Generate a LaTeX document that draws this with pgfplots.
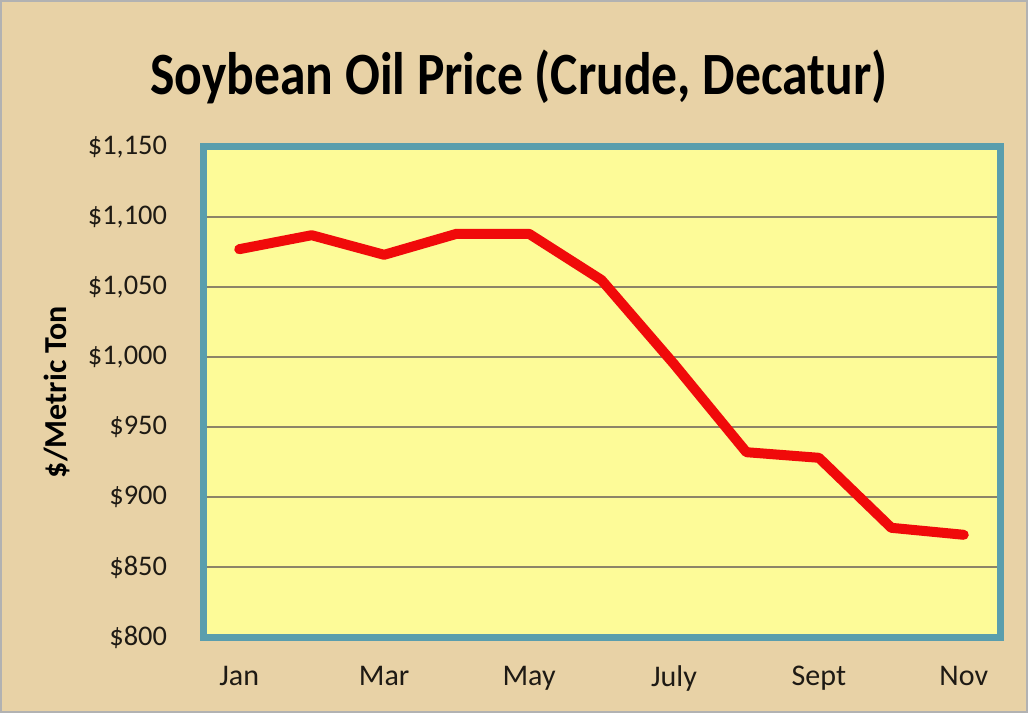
\documentclass[border=0pt]{standalone}
\usepackage{pgfplots}
\pgfplotsset{compat=1.18}
\usepackage{fontspec}
\setmainfont{Carlito}
\definecolor{bgtan}{HTML}{E8D2A6}
\definecolor{plotyellow}{HTML}{FDFB98}
\definecolor{frameteal}{HTML}{5A9EAD}
\definecolor{gridc}{HTML}{8C8468}
\definecolor{linered}{HTML}{F00A0A}
\definecolor{txt}{HTML}{1E1A14}
\begin{document}
\begin{tikzpicture}
\fill[bgtan] (0pt,0pt) rectangle (514pt,356.5pt);
\draw[gray!60, line width=0.8pt] (0.4pt,0.4pt) rectangle (513.6pt,356.1pt);
\useasboundingbox (0pt,0pt) rectangle (514pt,356.5pt);
\node[font=\bfseries\fontsize{30}{34}\selectfont, text=black] at (259.5pt,318pt) {\scalebox{0.86}[1]{Soybean Oil Price (Crude, Decatur)}};
\begin{axis}[
  at={(101.5pt,38pt)}, anchor=south west,
  scale only axis, width=398.5pt, height=245pt,
  xmin=0.5, xmax=11.5, ymin=800, ymax=1150,
  xtick={1,3,5,7,9,11},
  xticklabels={Jan,Mar,May,July,Sept,Nov},
  ytick={800,850,900,950,1000,1050,1100,1150},
  yticklabels={\$800,\$850,\$900,\$950,{\$1,000},{\$1,050},{\$1,100},{\$1,150}},
  major tick length=0pt,
  ymajorgrids, grid style={draw=gridc, line width=0.7pt},
  axis background/.style={fill=plotyellow},
  axis line style={draw=frameteal, line width=3.5pt},
  tick label style={text=txt},
  xticklabel style={font=\fontsize{15}{18}\selectfont, yshift=-11pt},
  yticklabel style={font=\fontsize{14.2}{17}\selectfont, xshift=-14.5pt},
  ylabel={\$/Metric Ton},
  ylabel style={font=\bfseries\fontsize{16}{19}\selectfont, text=black, yshift=2pt},
]
\addplot[linered, line width=5pt, line join=round, line cap=round] table {
x y
1 1077
2 1087
3 1073
4 1088
5 1088
6 1055
7 995
8 932
9 928
10 878
11 873
};
\end{axis}
\end{tikzpicture}
\end{document}
